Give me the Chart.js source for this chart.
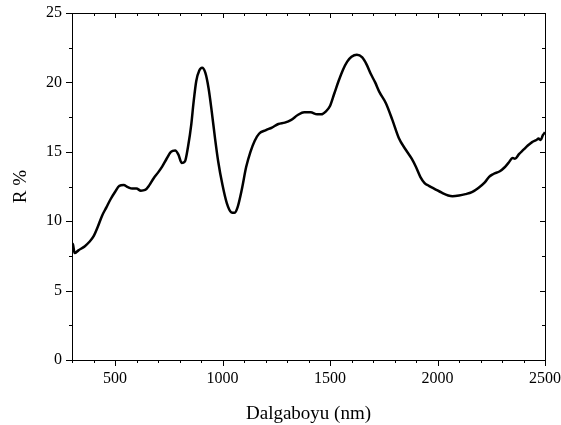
<!DOCTYPE html>
<html>
<head>
<meta charset="utf-8">
<script src="https://cdn.jsdelivr.net/npm/chart.js@4"></script>
<style>
html,body{margin:0;padding:0;background:#fff;}
#wrap{width:561px;height:425px;}
</style>
</head>
<body>
<div id="wrap"><canvas id="c" width="561" height="425"></canvas></div>
<script>
const wavelengths = [300,305,312,330,360,380,400,420,440,460,480,500,520,540,560,580,600,620,640,660,680,700,720,740,760,780,795,810,825,840,855,865,878,892,905,920,935,950,965,980,1000,1020,1040,1055,1070,1090,1110,1130,1150,1170,1200,1230,1260,1290,1320,1350,1380,1410,1440,1460,1480,1500,1520,1540,1560,1580,1600,1625,1650,1670,1690,1710,1730,1760,1790,1820,1850,1880,1900,1920,1940,1960,1990,2020,2050,2070,2100,2130,2160,2190,2220,2240,2260,2290,2310,2330,2350,2360,2380,2400,2420,2440,2460,2470,2480,2490,2500];
const reflectance = [8.4,8.3,7.7,7.9,8.2,8.5,8.9,9.6,10.4,11.0,11.6,12.1,12.55,12.6,12.45,12.35,12.35,12.2,12.25,12.6,13.1,13.5,13.95,14.5,15.0,15.1,14.8,14.2,14.3,15.4,17.0,18.5,20.1,20.85,21.05,20.7,19.6,17.9,16.0,14.3,12.6,11.3,10.65,10.6,11.0,12.3,13.9,15.0,15.8,16.3,16.55,16.75,17.0,17.1,17.3,17.65,17.85,17.85,17.7,17.7,17.9,18.3,19.2,20.1,20.9,21.5,21.85,22.0,21.8,21.3,20.6,20.0,19.3,18.5,17.3,16.0,15.2,14.5,13.9,13.2,12.75,12.55,12.3,12.05,11.85,11.8,11.85,11.95,12.1,12.4,12.8,13.2,13.4,13.6,13.85,14.2,14.55,14.5,14.85,15.15,15.45,15.7,15.85,15.95,15.85,16.2,16.4];
const xMajorTicks = [500,1000,1500,2000,2500];
const xMinorTicks = [300,400,600,700,800,900,1100,1200,1300,1400,1600,1700,1800,1900,2100,2200,2300,2400];
const yMajorTicks = [0,5,10,15,20,25];
const yMinorTicks = [2.5,7.5,12.5,17.5,22.5];

const FONT = "'Liberation Serif', 'DejaVu Serif', serif";

const tickPlugin = {
  id: 'frameTicks',
  afterDraw(chart) {
    const ctx = chart.ctx, xs = chart.scales.x, ys = chart.scales.y;
    const a = chart.chartArea;
    ctx.save();
    ctx.strokeStyle = '#000';
    ctx.lineWidth = 1;
    ctx.strokeRect(a.left + 0.5, a.top + 0.5, a.right - a.left, a.bottom - a.top);
    ctx.beginPath();
    const xt = (v, len, inLen) => {
      const px = Math.round(xs.getPixelForValue(v)) + 0.5;
      ctx.moveTo(px, a.bottom); ctx.lineTo(px, a.bottom + len);
      ctx.moveTo(px, a.top); ctx.lineTo(px, a.top + inLen);
    };
    const yt = (v, len, inLen) => {
      const py = Math.round(ys.getPixelForValue(v)) + 0.5;
      ctx.moveTo(a.left, py); ctx.lineTo(a.left - len, py);
      ctx.moveTo(a.right, py); ctx.lineTo(a.right - inLen, py);
    };
    xMajorTicks.forEach(v => xt(v, 6, 5));
    xMinorTicks.forEach(v => xt(v, 3, 3));
    yMajorTicks.forEach(v => yt(v, 6, 5));
    yMinorTicks.forEach(v => yt(v, 3, 3));
    ctx.stroke();
    ctx.restore();
  }
};

new Chart(document.getElementById('c'), {
  type: 'line',
  data: {
    labels: wavelengths,
    datasets: [{
      data: wavelengths.map((w, i) => ({x: w, y: reflectance[i]})),
      borderColor: '#000',
      borderWidth: 2.5,
      pointRadius: 0,
      fill: false,
      cubicInterpolationMode: 'monotone'
    }]
  },
  options: {
    responsive: false,
    animation: false,
    devicePixelRatio: 1,
    layout: {padding: {left: 0, right: 16, top: 13, bottom: 0}},
    plugins: {legend: {display: false}, tooltip: {enabled: false}},
    scales: {
      x: {
        type: 'linear', min: 300, max: 2500,
        grid: {display: false, drawTicks: false},
        border: {display: false},
        afterBuildTicks: s => { s.ticks = xMajorTicks.map(v => ({value: v})); },
        afterFit: s => { s.height = 65; s.paddingLeft = 0; s.paddingRight = 0; },
        ticks: {color: '#000', font: {family: FONT, size: 16}, padding: 9, maxRotation: 0, callback: v => String(v)},
        title: {display: true, text: 'Dalgaboyu (nm)', color: '#000', font: {family: FONT, size: 19}, padding: {top: 6, bottom: 0}}
      },
      y: {
        min: 0, max: 25,
        grid: {display: false, drawTicks: false},
        border: {display: false},
        afterBuildTicks: s => { s.ticks = yMajorTicks.map(v => ({value: v})); },
        afterFit: s => { s.width = 72; s.paddingTop = 0; s.paddingBottom = 0; },
        ticks: {color: '#000', font: {family: FONT, size: 16}, padding: 10, callback: v => String(v)},
        title: {display: true, text: 'R %', color: '#000', font: {family: FONT, size: 19}, padding: {top: 10, bottom: 0}}
      }
    }
  },
  plugins: [tickPlugin]
});
</script>
</body>
</html>
